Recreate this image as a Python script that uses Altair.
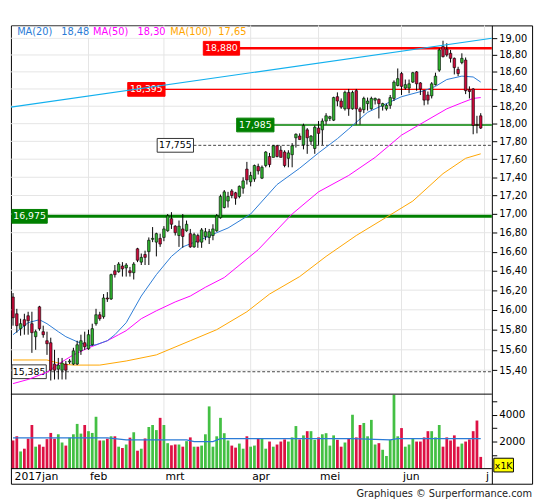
import altair as alt
import pandas as pd

# ---------------- data ----------------
days = pd.bdate_range("2017-01-02", "2017-06-30")
days = days[~days.isin(pd.to_datetime(["2017-04-14", "2017-04-17", "2017-05-01"]))]
FIRST = 2  # first trading day shown (Jan 4)

opens = [16.13,15.96,15.81,15.90,15.94,15.86,15.73,16.03,15.78,15.69,
         15.67,15.46,15.41,15.40,15.46,15.48,15.46,15.46,15.59,15.67,
         15.61,15.65,15.86,15.95,15.93,16.12,16.11,16.40,16.39,16.45,
         16.43,16.40,16.38,16.63,16.49,16.57,16.60,16.73,16.70,16.74,
         16.75,16.82,16.95,16.87,16.77,16.84,16.82,16.79,16.65,16.77,
         16.70,16.76,16.75,16.77,16.82,16.96,17.07,17.14,17.25,17.23,
         17.19,17.28,17.49,17.35,17.38,17.52,17.39,17.53,17.63,17.62,
         17.75,17.70,17.68,17.61,17.65,17.84,17.86,17.76,17.93,17.80,
         17.72,17.95,17.93,18.03,18.06,18.04,18.31,18.26,18.17,18.36,
         18.17,18.38,18.17,18.16,18.23,18.17,18.27,18.28,18.20,18.17,
         18.21,18.29,18.44,18.58,18.41,18.41,18.48,18.60,18.47,18.38,
         18.33,18.32,18.45,18.62,18.90,18.87,18.82,18.76,18.63,18.71,
         18.74,18.39,18.40,17.99,18.09]
highs = [16.17,16.01,15.91,15.96,15.98,15.98,15.80,16.04,15.84,15.78,
         15.72,15.60,15.52,15.52,15.49,15.51,15.62,15.69,15.75,15.78,
         15.80,15.86,16.01,15.98,16.16,16.18,16.37,16.46,16.49,16.49,
         16.48,16.44,16.49,16.64,16.58,16.61,16.75,16.86,16.80,16.79,
         16.87,17.00,17.02,16.88,16.93,17.00,16.93,16.84,16.80,16.79,
         16.85,16.85,16.84,16.89,17.00,17.21,17.26,17.24,17.27,17.24,
         17.31,17.40,17.57,17.46,17.54,17.55,17.53,17.69,17.67,17.76,
         17.76,17.75,17.70,17.70,17.78,17.89,17.89,18.00,17.95,17.87,
         17.98,18.03,18.06,18.12,18.09,18.31,18.36,18.29,18.38,18.40,
         18.38,18.40,18.19,18.31,18.30,18.31,18.30,18.29,18.24,18.23,
         18.33,18.50,18.64,18.60,18.51,18.51,18.60,18.61,18.48,18.38,
         18.37,18.48,18.59,18.88,18.97,18.94,18.86,18.77,18.66,18.82,
         18.77,18.43,18.41,18.09,18.12]
lows = [15.84,15.77,15.74,15.75,15.75,15.57,15.60,15.79,15.72,15.55,
        15.30,15.31,15.31,15.31,15.31,15.46,15.45,15.45,15.55,15.60,
        15.60,15.64,15.84,15.89,15.91,16.08,16.10,16.33,16.38,16.34,
        16.34,16.34,16.31,16.49,16.46,16.46,16.46,16.70,16.55,16.65,
        16.71,16.81,16.84,16.77,16.65,16.64,16.81,16.64,16.64,16.64,
        16.64,16.72,16.68,16.72,16.81,16.95,17.06,17.07,17.17,17.10,
        17.17,17.22,17.32,17.30,17.35,17.43,17.38,17.51,17.51,17.62,
        17.62,17.62,17.51,17.51,17.51,17.73,17.82,17.71,17.66,17.76,
        17.66,17.76,17.76,17.99,18.03,18.03,18.20,18.17,18.15,18.09,
        18.16,17.99,17.99,18.12,18.15,18.16,18.22,18.06,18.15,18.15,
        18.17,18.26,18.43,18.33,18.39,18.35,18.47,18.38,18.33,18.21,
        18.22,18.29,18.44,18.60,18.77,18.78,18.71,18.57,18.55,18.69,
        18.34,18.29,17.88,17.89,17.94]
closes = [15.92,15.84,15.86,15.84,15.89,15.77,15.78,15.81,15.75,15.66,
          15.40,15.40,15.45,15.47,15.40,15.49,15.59,15.65,15.69,15.63,
          15.75,15.81,15.95,15.91,16.12,16.11,16.36,16.36,16.47,16.42,
          16.46,16.38,16.47,16.51,16.54,16.54,16.72,16.74,16.79,16.68,
          16.84,16.98,16.89,16.80,16.87,16.76,16.89,16.65,16.78,16.70,
          16.83,16.81,16.81,16.84,16.98,17.19,17.24,17.19,17.20,17.17,
          17.30,17.36,17.37,17.42,17.53,17.47,17.51,17.68,17.54,17.75,
          17.63,17.62,17.53,17.67,17.75,17.88,17.82,17.98,17.84,17.86,
          17.96,17.89,18.03,18.09,18.08,18.30,18.26,18.19,18.36,18.17,
          18.36,18.17,18.14,18.29,18.26,18.29,18.29,18.23,18.23,18.21,
          18.30,18.48,18.52,18.43,18.45,18.46,18.59,18.46,18.40,18.27,
          18.27,18.46,18.55,18.86,18.78,18.80,18.76,18.65,18.58,18.76,
          18.38,18.37,17.98,17.98,17.95]
volumes = [2090,2400,1275,1480,2220,3240,1630,1790,1630,2190,
           2650,2220,2550,1940,1710,2300,2550,3320,2600,3240,
           2780,2650,3850,2090,2090,2220,2400,2400,1630,1530,
           1790,2300,2700,1330,1480,2240,3090,3240,2860,3770,
           3240,1890,1730,1790,1790,1630,2040,2320,1630,1630,
           1710,2550,4620,1630,2400,3770,2630,2090,1710,1560,
           1860,1480,2400,1630,1710,2220,2220,1480,2010,1630,
           1790,2010,2170,2010,2320,3160,2170,2470,2780,2780,
           2140,2320,2550,2630,1710,2470,2140,1630,1940,2240,
           4000,2320,3240,3390,2400,3620,1790,1890,1400,940,
           2140,5480,2400,3010,1630,1790,2220,2010,2010,2320,
           2780,2780,2320,3240,1630,2320,2090,2470,1630,1860,
           2010,2170,2780,3570,870]

ma20_day = [2,6,9,11,14,16,19,22,24,27,29,32,36,40,44,47,52,56,59,65,
            72,78,83,88,91,96,101,105,111,114,117,121,124,126]
ma20_val = [15.75,15.87,15.90,15.86,15.78,15.73,15.68,15.64,15.65,15.69,
            15.75,15.87,16.14,16.36,16.55,16.65,16.73,16.80,16.85,17.00,
            17.32,17.50,17.67,17.83,17.94,18.13,18.23,18.31,18.38,18.43,
            18.51,18.55,18.54,18.48]
ma50_day = [2,6,11,14,18,22,27,30,32,36,40,45,49,53,58,67,76,83,91,98,
            105,111,117,121,124,126]
ma50_val = [15.27,15.31,15.38,15.46,15.55,15.62,15.69,15.75,15.79,15.91,
            15.99,16.08,16.14,16.23,16.33,16.62,17.00,17.24,17.42,17.62,
            17.87,18.02,18.17,18.24,18.29,18.30]
ma100_day = [2,11,15,18,25,32,40,49,56,64,70,78,85,93,102,108,116,122,126]
ma100_val = [15.50,15.50,15.46,15.45,15.45,15.49,15.55,15.69,15.80,15.98,
             16.16,16.34,16.55,16.77,16.99,17.14,17.44,17.61,17.66]
vma_day = [2,27,32,48,50,55,57,92,102,104,126]
vma_val = [2290,2290,2140,2140,2010,2010,2220,2220,2140,2220,2220]
trend_day = [1.443, 128.95]
trend_val = [18.19, 19.00]

levels = [18.880, 18.395, 17.985, 17.755, 16.975, 15.385]
price_ticks = [15.4,15.6,15.8,16.0,16.2,16.4,16.6,16.8,17.0,17.2,
               17.4,17.6,17.8,18.0,18.2,18.4,18.6,18.8,19.0]
vol_ticks = [1000,2000,3000,4000,5000]
month_names = ["2017jan","feb","mrt","apr","mei","jun","j"]
legend_names = ["MA(20)","MA(50)","MA(100)"]
legend_vals = [18.48, 18.30, 17.65]

# ---------------- layout / style ----------------
W, H = 531, 467
AX = 490
VOL_TOP = 375.7
DATE_TOP = 451.6
FONT = "DejaVu Sans"
UP, DOWN = "#2fb32f", "#cc0a3a"
VUP, VDOWN = "#44c044", "#dd1144"
BLUE, MAG, ORA, CYAN = "#2b7bd6", "#ff00ff", "#ffa500", "#12b0ee"
GRID = "#e4e4e4"

XS = alt.Scale(domain=[1.443, 139.62], nice=False, zero=False, padding=0)
PS = alt.Scale(type="log", domain=[14.3323, 19.155], nice=False, padding=0)
VS = alt.Scale(domain=[-1122, 32904], nice=False, zero=False, padding=0)

def X(f):
    return alt.X(f, type="quantitative", scale=XS, axis=None)

def YP(f, axis=None):
    return alt.Y(f, type="quantitative", scale=PS, axis=axis)

def YV(f, axis=None):
    return alt.Y(f, type="quantitative", scale=VS, axis=axis)

day_idx = list(range(FIRST, FIRST + len(opens)))
ohlc = pd.DataFrame({"d": day_idx, "o": opens, "h": highs, "l": lows,
                     "c": closes, "v": volumes})
month_idx = [FIRST] + [k for k in range(1, len(days))
                       if days[k].month != days[k - 1].month] + [len(days)]
months = pd.DataFrame({"d": month_idx, "name": month_names})
one = pd.DataFrame({"a": [0]})

price_axis = alt.Axis(orient="right", offset=-(W - AX), values=price_ticks,
                      labelExpr="replace(format(datum.value, '.2f'), '.', ',')",
                      grid=False, domainColor="black", tickColor="black", tickSize=5,
                      labelFontSize=10, labelFont=FONT, labelColor="black",
                      labelPadding=2, title=None, labelOverlap=False)
vol_axis = alt.Axis(orient="right", offset=-(W - AX), values=vol_ticks,
                    labelExpr="datum.value % 2000 == 0 ? format(datum.value, 'd') : ''",
                    grid=False, domain=False, tickColor="black", tickSize=5,
                    labelFontSize=10.5, labelFont=FONT, labelColor="black",
                    labelPadding=2, title=None, labelOverlap=False)

layers = []
# grids
layers.append(alt.Chart(pd.DataFrame({"t": price_ticks})).mark_rule(color=GRID).encode(
    y=YP("t", price_axis), x=alt.value(0), x2=alt.value(AX)))
layers.append(alt.Chart(months.iloc[1:]).mark_rule(color=GRID).encode(
    x=X("d"), y=alt.value(0), y2=alt.value(DATE_TOP)))
# legend background
layers.append(alt.Chart(one).mark_rect(fill="white").encode(
    x=alt.value(1), x2=alt.value(241), y=alt.value(1), y2=alt.value(12.5)))

# horizontal levels
styles = [
    dict(line="#ff0000", w=2.5, dash=None, fill="#ff0000", stroke="#ff0000", txt="white", x0=196, x1=233),
    dict(line="#ff0000", w=1.3, dash=None, fill="#ff0000", stroke="#ff0000", txt="white", x0=119, x1=157),
    dict(line="#008000", w=1.5, dash=None, fill="#008000", stroke="#008000", txt="white", x0=230, x1=268),
    dict(line="#444444", w=1, dash=[3, 2], fill="white", stroke="#333333", txt="black", x0=149, x1=186),
    dict(line="#008000", w=3, dash=None, fill="#008000", stroke="#008000", txt="white", x0=1, x1=37),
    dict(line="#444444", w=1, dash=[3, 2], fill="white", stroke="#333333", txt="black", x0=1, x1=36),
]
box_layers = []
for val, st in zip(levels, styles):
    dfl = pd.DataFrame({"v": [val], "s": [f"{val:.3f}".replace(".", ",")]})
    kw = {"strokeDash": st["dash"]} if st["dash"] else {}
    layers.append(alt.Chart(dfl).mark_rule(color=st["line"], strokeWidth=st["w"], **kw).encode(
        x=alt.value(st["x1"]), x2=alt.value(AX), y=YP("v")))
    box_layers.append(alt.Chart(dfl).mark_rect(fill=st["fill"], stroke=st["stroke"], strokeWidth=1,
                                               yOffset=-7, y2Offset=7).encode(
        x=alt.value(st["x0"]), x2=alt.value(st["x1"]), y=YP("v"), y2=alt.Y2("v")))
    box_layers.append(alt.Chart(dfl).mark_text(color=st["txt"], fontSize=9.5, font=FONT,
                                               align="center", baseline="middle").encode(
        x=alt.value((st["x0"] + st["x1"]) / 2), y=YP("v"), text="s:N"))
layers += box_layers

def line(dd, vv, color, w=1.0):
    return alt.Chart(pd.DataFrame({"d": dd, "v": vv})).mark_line(color=color, strokeWidth=w).encode(
        x=X("d"), y=YP("v"))

layers.append(line(ma100_day, ma100_val, ORA))
layers.append(line(ma50_day, ma50_val, MAG))
layers.append(line(ma20_day, ma20_val, BLUE))

# candles
layers.append(alt.Chart(ohlc).mark_rule(color="black", strokeWidth=1).encode(
    x=X("d"), y=YP("l"), y2=alt.Y2("h")))
layers.append(alt.Chart(ohlc).mark_bar(width=2.6, stroke="black", strokeWidth=0.6).encode(
    x=X("d"), y=YP("o"), y2=alt.Y2("c"),
    fill=alt.when(alt.datum.c >= alt.datum.o).then(alt.value(UP)).otherwise(alt.value(DOWN))))

# trend line
layers.append(line(trend_day, trend_val, CYAN, 1.2))

# volume
layers.append(alt.Chart(ohlc).mark_bar(width=2.8).encode(
    x=X("d"), y=YV("v", vol_axis), y2=alt.Y2Datum(0),
    fill=alt.when(alt.datum.c >= alt.datum.o).then(alt.value(VUP)).otherwise(alt.value(VDOWN))))
layers.append(alt.Chart(pd.DataFrame({"d": vma_day, "v": vma_val})).mark_line(
    color=BLUE, strokeWidth=1.3).encode(x=X("d"), y=YV("v")))

# panel separators
for yy in (VOL_TOP, DATE_TOP):
    layers.append(alt.Chart(one).mark_rule(color="black", strokeWidth=1).encode(
        x=alt.value(0), x2=alt.value(AX), y=alt.value(yy)))

# date labels
layers.append(alt.Chart(months).mark_text(align="left", baseline="middle", dx=1.5,
                                          fontSize=11, font=FONT, color="black").encode(
    x=X("d"), y=alt.value(460), text="name:N"))

# MA legend
leg_pos = [(6.3, 51.3, BLUE), (83.7, 129.0, MAG), (162.3, 211.3, ORA)]
for name, val, (xn, xv, col) in zip(legend_names, legend_vals, leg_pos):
    layers.append(alt.Chart(one).mark_text(text=name, align="left", baseline="middle",
                                           fontSize=10, font=FONT, color=col).encode(
        x=alt.value(xn), y=alt.value(6.8)))
    layers.append(alt.Chart(one).mark_text(text=f"{val:.2f}".replace(".", ","), align="left",
                                           baseline="middle", fontSize=10, font=FONT, color=col).encode(
        x=alt.value(xv), y=alt.value(6.8)))

# x1K box
layers.append(alt.Chart(one).mark_rect(fill="#ffff00", stroke="black", strokeWidth=1).encode(
    x=alt.value(492), x2=alt.value(512), y=alt.value(441), y2=alt.value(455)))
layers.append(alt.Chart(one).mark_text(text="x1K", fontSize=9.5, font=FONT, color="black",
                                       align="center", baseline="middle").encode(
    x=alt.value(502), y=alt.value(448.5)))

# credit
layers.append(alt.Chart(one).mark_text(text="Graphiques © Surperformance.com", align="right",
                                       baseline="middle", fontSize=10, font=FONT,
                                       color="#222222").encode(
    x=alt.value(W), y=alt.value(478)))

chart = alt.layer(*layers).resolve_scale(y="independent").properties(
    width=W, height=H,
    padding={"left": 0, "top": 12, "right": 5, "bottom": 5},
    autosize=alt.AutoSizeParams(type="pad"),
).configure(font=FONT).configure_view(stroke="black", strokeWidth=1)

chart.save("out.html", embed_options={"renderer": "svg", "actions": False})
